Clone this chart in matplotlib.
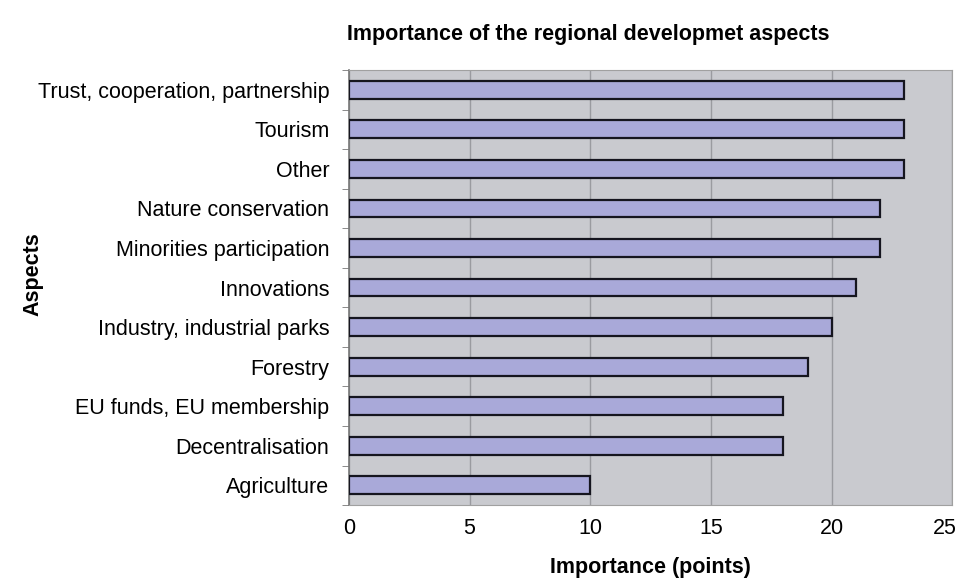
import matplotlib.pyplot as plt
import matplotlib.transforms as mtransforms
import numpy as np

plt.rcParams['font.family'] = ['Liberation Sans', 'DejaVu Sans']

# Aspects, bottom to top as drawn
aspects = ["Agriculture", "Decentralisation", "EU funds, EU membership", "Forestry",
           "Industry, industrial parks", "Innovations", "Minorities participation",
           "Nature conservation", "Other", "Tourism", "Trust, cooperation, partnership"]
points = [10, 18, 18, 19, 20, 21, 22, 22, 23, 23, 23]

fig = plt.figure(figsize=(9.61, 5.78), dpi=100)
ax = fig.add_axes([0.363, 0.126, 0.628, 0.753])
ax.set_facecolor('#c9cacf')

y = np.arange(len(aspects))
ax.barh(y, points, height=0.45, color='#a9a9d9', edgecolor='#15151f', linewidth=1.6, zorder=3)

ax.set_xlim(0, 25)
ax.set_ylim(-0.5, len(aspects) - 0.5)
ax.set_xticks([0, 5, 10, 15, 20, 25])
ax.xaxis.grid(True, color='#9a9ba0', linewidth=1.0, zorder=0)
ax.tick_params(axis='x', length=0, labelsize=15.5, pad=9)
# keep the last tick label inside the figure
last = ax.get_xticklabels()[-1]
last.set_transform(last.get_transform() + mtransforms.ScaledTranslation(-8 / 100, 0, fig.dpi_scale_trans))

ax.set_yticks(y)
ax.set_yticklabels(aspects, fontsize=15.5)
ax.tick_params(axis='y', which='major', length=0, pad=14)
ax.set_yticks(np.arange(-0.5, len(aspects)), minor=True)
ax.tick_params(axis='y', which='minor', length=5, color='#777777', direction='out')

for side in ['top', 'right', 'bottom']:
    ax.spines[side].set_color('#a0a0a0')
ax.spines['left'].set_color('#777777')
ax.spines['left'].set_linewidth(1.2)

ax.set_xlabel("Importance (points)", fontsize=15.5, fontweight='bold', labelpad=13)
ax.set_ylabel("Aspects", fontsize=15.5, fontweight='bold')
ax.yaxis.set_label_coords(-0.506, 0.53)
fig.text(0.6125, 0.93, "Importance of the regional developmet aspects",
         fontsize=15.5, fontweight='bold', ha='center')

fig.savefig("out.png", dpi=100, facecolor='white')
